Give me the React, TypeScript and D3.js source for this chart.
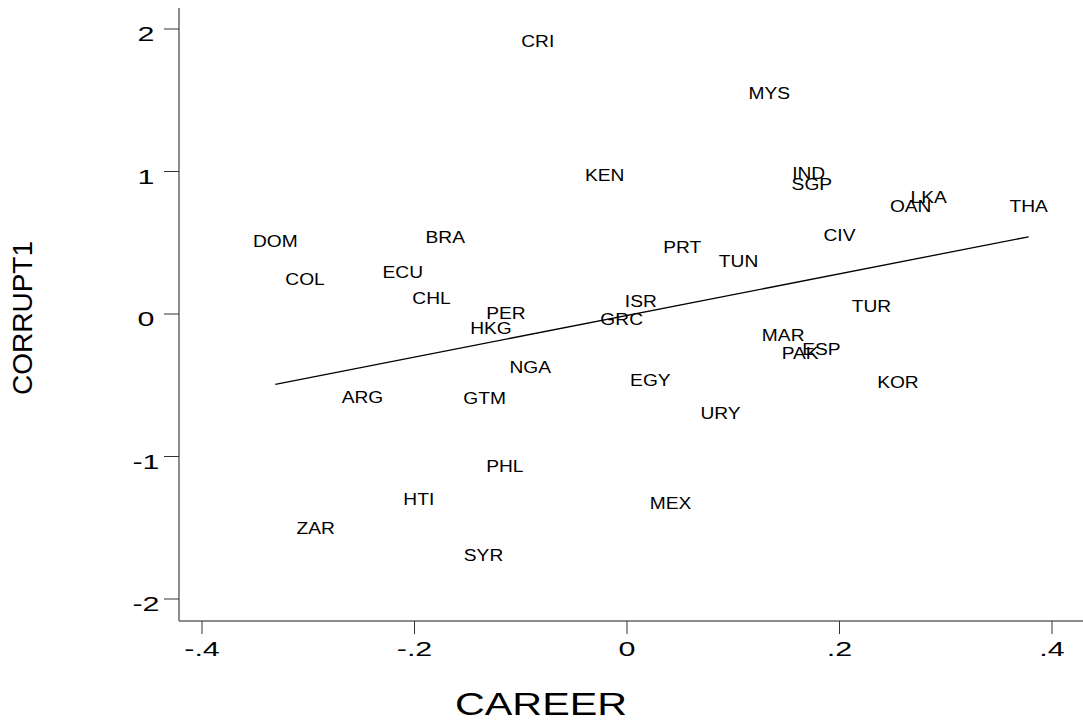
import React from 'react';
import * as d3 from 'd3';

// country codes and values
const countries = [
  'CRI', 'MYS', 'KEN', 'IND', 'SGP', 'LKA', 'OAN', 'THA', 'DOM', 'BRA',
  'CIV', 'PRT', 'TUN', 'ECU', 'COL', 'CHL', 'ISR', 'TUR', 'PER', 'GRC',
  'HKG', 'MAR', 'ESP', 'PAK', 'NGA', 'EGY', 'KOR', 'ARG', 'GTM', 'URY',
  'PHL', 'HTI', 'MEX', 'ZAR', 'SYR',
];
const career = [
  -0.084, 0.134, -0.021, 0.171, 0.174, 0.284, 0.267, 0.378, -0.331, -0.171,
  0.2, 0.052, 0.105, -0.211, -0.303, -0.184, 0.013, 0.23, -0.114, -0.005,
  -0.128, 0.147, 0.183, 0.163, -0.091, 0.022, 0.255, -0.249, -0.134, 0.088,
  -0.115, -0.196, 0.041, -0.293, -0.135,
];
const corrupt1 = [
  1.918, 1.551, 0.975, 0.987, 0.91, 0.819, 0.76, 0.76, 0.514, 0.542,
  0.554, 0.472, 0.374, 0.297, 0.244, 0.11, 0.091, 0.058, 0.005, -0.037,
  -0.096, -0.147, -0.246, -0.272, -0.374, -0.461, -0.479, -0.58, -0.587, -0.693,
  -1.067, -1.3, -1.324, -1.504, -1.691,
];

// linear fit
const fitIntercept = -0.01;
const fitSlope = 1.46;

const xTicks = [-0.4, -0.2, 0, 0.2, 0.4];
const xTickLabels = ['-.4', '-.2', '0', '.2', '.4'];
const yTicks = [-2, -1, 0, 1, 2];
const yTickLabels = ['-2', '-1', '0', '1', '2'];

const W = 1083;
const H = 721;
const font = '"Liberation Sans", Arial, Helvetica, sans-serif';

export default function App() {
  const axisLeft = 179;
  const axisBottom = 621;
  const axisTop = 8;
  const axisRight = W;

  const x = d3.scaleLinear().domain([-0.4, 0.4]).range([202, 1052]);
  const y = d3.scaleLinear().domain([-2, 2]).range([599, 29]);

  const [xMin, xMax] = d3.extent(career) as [number, number];
  const fitLine = d3
    .line<number>()
    .x((d) => x(d))
    .y((d) => y(fitIntercept + fitSlope * d));

  return (
    <svg
      width={W}
      height={H}
      style={{ position: 'absolute', left: 0, top: 0, display: 'block', background: '#fff' }}
      fontFamily={font}
    >
      {/* axes */}
      <line x1={axisLeft} x2={axisLeft} y1={axisTop} y2={axisBottom} stroke="#666" strokeWidth={1.5} />
      <line x1={axisLeft} x2={axisRight} y1={axisBottom} y2={axisBottom} stroke="#666" strokeWidth={1.5} />

      {yTicks.map((t, i) => (
        <g key={'y' + t}>
          <line x1={axisLeft - 15} x2={axisLeft} y1={y(t)} y2={y(t)} stroke="#333" strokeWidth={1} />
          <text
            transform={`translate(146,${y(t) + 12}) scale(1.45,1)`}
            textAnchor="middle"
            fontSize={21}
            fill="#000"
          >
            {yTickLabels[i]}
          </text>
        </g>
      ))}

      {xTicks.map((t, i) => (
        <g key={'x' + t}>
          <line x1={x(t)} x2={x(t)} y1={axisBottom} y2={axisBottom + 13} stroke="#333" strokeWidth={1} />
          <text
            transform={`translate(${x(t)},656) scale(1.45,1)`}
            textAnchor="middle"
            fontSize={21}
            fill="#000"
          >
            {xTickLabels[i]}
          </text>
        </g>
      ))}

      {/* fitted line */}
      <path d={fitLine([xMin, xMax]) || ''} fill="none" stroke="#000" strokeWidth={1.3} />

      {/* country labels */}
      {countries.map((c, i) => (
        <text
          key={c}
          transform={`translate(${x(career[i])},${y(corrupt1[i]) + 6}) scale(1.13,1)`}
          textAnchor="middle"
          fontSize={17}
          fill="#000"
        >
          {c}
        </text>
      ))}

      {/* axis titles */}
      <text transform="translate(541,715) scale(1.29,1)" textAnchor="middle" fontSize={32} fill="#000">
        CAREER
      </text>
      <text transform="translate(32,318) rotate(-90)" textAnchor="middle" fontSize={28} fill="#000">
        CORRUPT1
      </text>
    </svg>
  );
}
